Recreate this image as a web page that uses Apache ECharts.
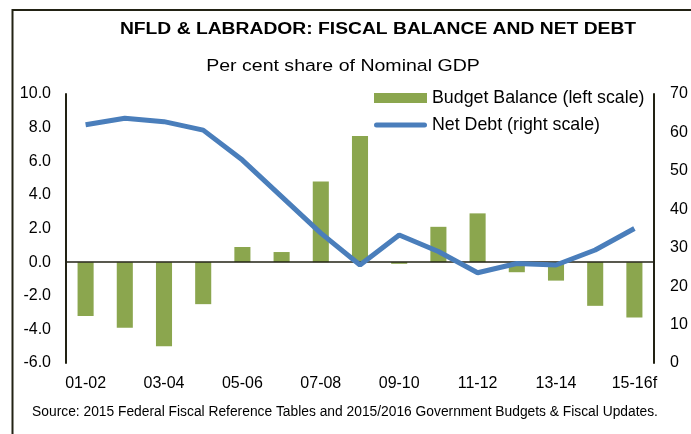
<!DOCTYPE html>
<html>
<head>
<meta charset="utf-8">
<script src="https://cdn.jsdelivr.net/npm/echarts@6/dist/echarts.min.js"></script>
<style>
  html, body { margin: 0; padding: 0; background: #fff; }
  #chart { width: 691px; height: 434px; }
</style>
</head>
<body>
<div id="chart"></div>
<script>
// Fiscal years, 2001-02 through 2015-16 forecast
const years = ['01-02','02-03','03-04','04-05','05-06','06-07','07-08','08-09',
               '09-10','10-11','11-12','12-13','13-14','14-15','15-16f'];
// Budget balance, % of nominal GDP (left scale)
const budgetBalance = [-3.2, -3.9, -5.0, -2.5, 0.9, 0.6, 4.8, 7.5,
                       -0.1, 2.1, 2.9, -0.6, -1.1, -2.6, -3.3];
// Net debt, % of nominal GDP (right scale)
const netDebt = [62.0, 63.7, 62.8, 60.6, 52.8, 43.3, 33.8, 25.5,
                 33.3, 29.0, 23.5, 25.9, 25.5, 29.4, 35.0];

const FONT = 'Liberation Sans, Arial, sans-serif';
const DARK = '#222214';
const GREEN = '#8BA64E';
const BLUE = '#4A7EBB';

const chart = echarts.init(document.getElementById('chart'), null, { renderer: 'canvas' });

chart.setOption({
  animation: false,
  backgroundColor: '#fff',
  textStyle: { fontFamily: FONT, color: '#000' },
  title: {
    text: 'Source: 2015 Federal Fiscal Reference Tables and 2015/2016 Government Budgets & Fiscal Updates.',
    left: 345, top: 405, textAlign: 'center', padding: 0,
    textStyle: { fontFamily: FONT, fontSize: 13.8, fontWeight: 'normal', color: '#000' }
  },
  legend: {
    orient: 'vertical',
    left: 374, top: 89, padding: 0,
    itemWidth: 53, itemHeight: 10, itemGap: 9,
    textStyle: { fontFamily: FONT, fontSize: 17.8, color: '#000' },
    data: [
      { name: 'Budget Balance (left scale)', icon: 'rect' },
      { name: 'Net Debt (right scale)', icon: 'path://M2.5,0 L50.5,0 A2.5,2.5 0 0 1 50.5,5 L2.5,5 A2.5,2.5 0 0 1 2.5,0 Z',
        itemStyle: { color: BLUE } }
    ]
  },
  grid: { left: 66, right: 37, top: 94, bottom: 71, containLabel: false },
  xAxis: {
    type: 'category',
    data: years,
    boundaryGap: true,
    axisLine: { show: false },
    axisTick: { show: false },
    axisLabel: { interval: 1, margin: 13, fontSize: 16, fontFamily: FONT, color: '#000' }
  },
  yAxis: [
    {
      type: 'value', min: -6, max: 10, interval: 2,
      axisLine: { show: true, lineStyle: { color: DARK, width: 2 } },
      axisTick: { show: false },
      splitLine: { show: false },
      axisLabel: { margin: 15, fontSize: 16, fontFamily: FONT, color: '#000',
                   formatter: v => v.toFixed(1) }
    },
    {
      type: 'value', min: 0, max: 70, interval: 10,
      position: 'right',
      axisLine: { show: true, lineStyle: { color: DARK, width: 2 } },
      axisTick: { show: false },
      splitLine: { show: false },
      axisLabel: { margin: 16, fontSize: 16, fontFamily: FONT, color: '#000' }
    }
  ],
  series: [
    {
      name: 'Budget Balance (left scale)',
      type: 'bar',
      yAxisIndex: 0,
      data: budgetBalance,
      barWidth: '41%',
      itemStyle: { color: GREEN },
      markLine: {
        silent: true,
        symbol: ['none', 'none'],
        label: { show: false },
        lineStyle: { color: DARK, width: 1.5, type: 'solid' },
        data: [{ yAxis: 0 }]
      }
    },
    {
      name: 'Net Debt (right scale)',
      type: 'line',
      yAxisIndex: 1,
      data: netDebt,
      symbol: 'none',
      z: 5,
      lineStyle: { color: BLUE, width: 5 },
      itemStyle: { color: BLUE }
    }
  ],
  graphic: [
    // frame along the top and left edges
    {
      type: 'polyline',
      shape: { points: [[12.5, 434], [12.5, 10], [691, 10]] },
      style: { stroke: DARK, lineWidth: 2, fill: null },
      silent: true
    },
    // heading, set wide
    {
      type: 'text',
      x: 378, y: 29.5, scaleX: 1.205,
      style: {
        text: 'NFLD & LABRADOR: FISCAL BALANCE AND NET DEBT',
        x: 0, y: 0, align: 'center', verticalAlign: 'middle',
        font: 'bold 16px ' + FONT, fill: '#000'
      },
      silent: true
    },
    {
      type: 'text',
      x: 343, y: 67, scaleX: 1.2,
      style: {
        text: 'Per cent share of Nominal GDP',
        x: 0, y: 0, align: 'center', verticalAlign: 'middle',
        font: '16.3px ' + FONT, fill: '#000'
      },
      silent: true
    }
  ]
});
</script>
</body>
</html>
